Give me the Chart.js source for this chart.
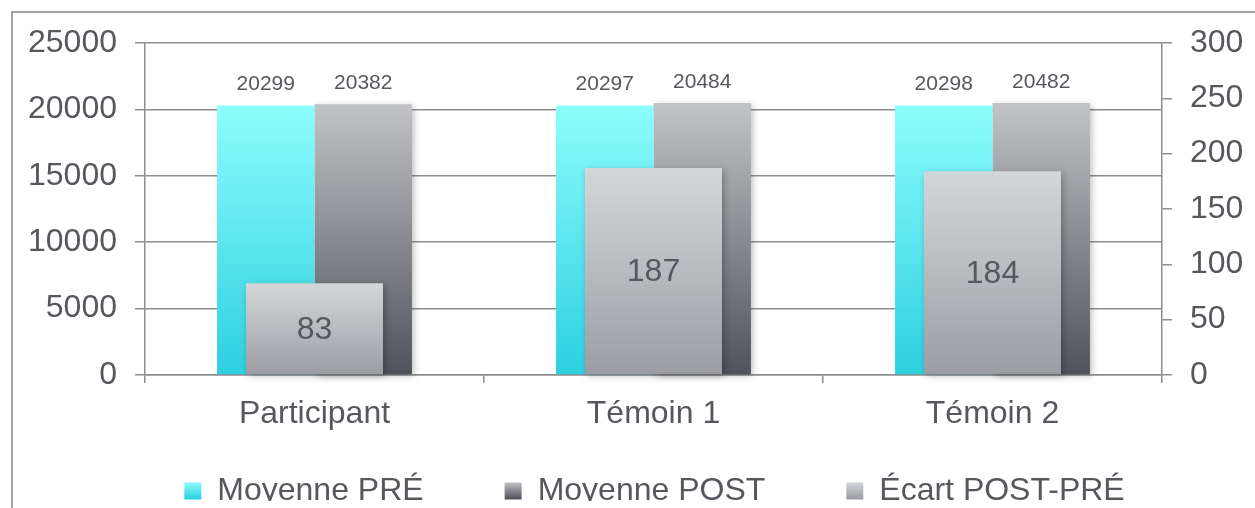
<!DOCTYPE html>
<html>
<head>
<meta charset="utf-8">
<script src="https://cdn.jsdelivr.net/npm/chart.js@4"></script>
<style>
  html, body { margin: 0; padding: 0; background: #fff; overflow: hidden; }
  #cadre { position: absolute; left: 11px; top: 11px; width: 1400px; height: 700px; border: 2px solid #a3a3a3; box-sizing: border-box; }
  #coupe { position: absolute; left: 0; top: 0; width: 1255px; height: 501px; overflow: hidden; }
  #zone { position: relative; width: 1255px; height: 580px; }
</style>
</head>
<body>
<div id="cadre"></div>
<div id="coupe"><div id="zone"><canvas id="graph"></canvas></div></div>
<script>
// données
const categories = ['Participant', 'Témoin 1', 'Témoin 2'];
const moyennePre = [20299, 20297, 20298];
const moyennePost = [20382, 20484, 20482];
const ecart = [83, 187, 184];
const noms = ['Moyenne PRÉ', 'Moyenne POST', 'Écart POST-PRÉ'];
const maxGauche = 25000, pasGauche = 5000;
const maxDroite = 300, pasDroite = 50;

const texte = '#56585e';
const trait = '#8e8e8e';
const police = '"Liberation Sans", Arial, sans-serif';
const couleurs = [
  ['#8cfdfd', '#2dd0e1'],
  ['#c2c3c6', '#50525a'],
  ['#d4d7da', '#9b9da2']
];

Chart.defaults.font.family = police;
Chart.defaults.color = texte;

// dégradé vertical propre à chaque barre
function degrade(haut, bas) {
  return (c) => {
    const chart = c.chart;
    if (!chart.chartArea || c.type !== 'data') return bas;
    const ds = chart.data.datasets[c.datasetIndex];
    const sc = chart.scales[ds.yAxisID];
    const g = chart.ctx.createLinearGradient(0, sc.getPixelForValue(c.parsed.y), 0, sc.getPixelForValue(0));
    g.addColorStop(0, haut);
    g.addColorStop(1, bas);
    return g;
  };
}

const ombre = {
  id: 'ombre',
  beforeDatasetDraw(chart, args) {
    if (args.index === 0) return;
    const ctx = chart.ctx;
    ctx.save();
    ctx.shadowColor = 'rgba(0,0,0,0.28)';
    ctx.shadowBlur = 7;
    ctx.shadowOffsetX = 2;
    ctx.shadowOffsetY = 2;
  },
  afterDatasetDraw(chart, args) {
    if (args.index === 0) return;
    chart.ctx.restore();
  }
};

// la légende remonte un peu sous les catégories (grand écart horizontal entre items)
const decaleLegende = {
  id: 'decaleLegende',
  afterLayout(chart) {
    const lg = chart.legend;
    lg.top -= 40;
    lg.bottom -= 40;
    lg.left += 13;
    lg.right += 13;
  }
};

const etiquettes = {
  id: 'etiquettes',
  afterDatasetsDraw(chart) {
    const ctx = chart.ctx;
    ctx.save();
    ctx.fillStyle = texte;
    ctx.textAlign = 'center';
    ctx.textBaseline = 'middle';
    ctx.font = '21px ' + police;
    [moyennePre, moyennePost].forEach((vals, d) => {
      chart.getDatasetMeta(d).data.forEach((bar, i) => {
        ctx.fillText(vals[i], bar.x, bar.y - 21);
      });
    });
    ctx.font = '32px ' + police;
    chart.getDatasetMeta(2).data.forEach((bar, i) => {
      ctx.fillText(ecart[i], bar.x, (bar.y + bar.base) / 2 + 1);
    });
    ctx.restore();
  }
};

const graph = document.getElementById('graph').getContext('2d');
const myChart = new Chart(graph, {
  type: 'bar',
  data: {
    labels: categories,
    datasets: [{
      label: noms[0],
      data: moyennePre,
      yAxisID: 'y',
      backgroundColor: degrade(couleurs[0][0], couleurs[0][1]),
      categoryPercentage: 0.575,
      barPercentage: 1,
      order: 1,
      clip: false
    }, {
      label: noms[1],
      data: moyennePost,
      yAxisID: 'y',
      backgroundColor: degrade(couleurs[1][0], couleurs[1][1]),
      categoryPercentage: 0.575,
      barPercentage: 1,
      order: 1,
      clip: false
    }, {
      label: noms[2],
      data: ecart,
      yAxisID: 'y2',
      backgroundColor: degrade(couleurs[2][0], couleurs[2][1]),
      grouped: false,
      categoryPercentage: 0.404,
      barPercentage: 1,
      order: 0,
      clip: false
    }]
  },
  options: {
    responsive: true,
    maintainAspectRatio: false,
    animation: false,
    layout: { padding: { left: 28, right: 0, top: 43, bottom: 23 } },
    scales: {
      x: {
        grid: { drawOnChartArea: false, tickLength: 8, color: trait, lineWidth: 1.5 },
        border: { color: trait, width: 1.5 },
        ticks: { font: { size: 32 }, color: texte, padding: 12 },
        afterFit(s) { s.height = 59; }
      },
      y: {
        position: 'left',
        min: 0, max: maxGauche,
        grid: { tickLength: 10, color: trait, lineWidth: 1.5 },
        border: { color: trait, width: 1.5 },
        ticks: { stepSize: pasGauche, font: { size: 32 }, color: texte, padding: 18, callback: (v) => String(v) },
        afterFit(s) { s.width = 117; }
      },
      y2: {
        position: 'right',
        min: 0, max: maxDroite,
        grid: { drawOnChartArea: false, tickLength: 10, color: trait, lineWidth: 1.5 },
        border: { color: trait, width: 1.5 },
        ticks: { stepSize: pasDroite, font: { size: 32 }, color: texte, padding: 18, callback: (v) => String(v) },
        afterFit(s) { s.width = 93; }
      }
    },
    plugins: {
      tooltip: { enabled: false },
      legend: {
        position: 'bottom',
        labels: {
          font: { size: 32 },
          color: texte,
          boxWidth: 17,
          boxHeight: 17,
          padding: 81,
          sort: (a, b) => a.datasetIndex - b.datasetIndex,
          generateLabels(chart) {
            const items = Chart.defaults.plugins.legend.labels.generateLabels(chart);
            items.forEach((it) => {
              const c = couleurs[it.datasetIndex];
              const g = chart.ctx.createLinearGradient(0, 482, 0, 499);
              g.addColorStop(0, c[0]);
              g.addColorStop(1, c[1]);
              it.fillStyle = g;
              it.lineWidth = 0;
              it.strokeStyle = 'rgba(0,0,0,0)';
            });
            return items;
          }
        }
      }
    }
  },
  plugins: [ombre, decaleLegende, etiquettes]
});
</script>
</body>
</html>
